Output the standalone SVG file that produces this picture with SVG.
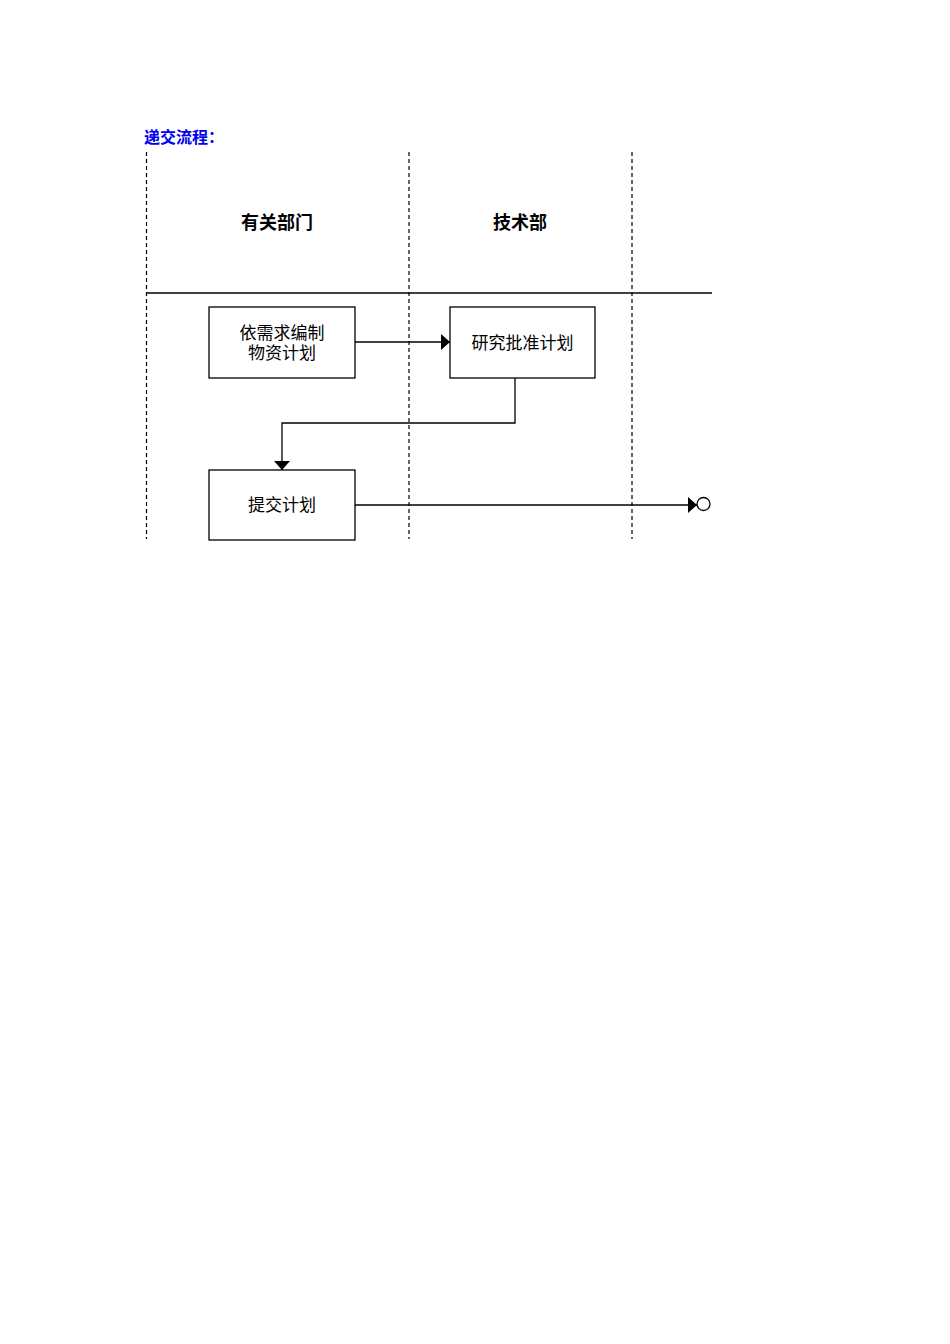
<svg xmlns="http://www.w3.org/2000/svg" width="950" height="1344" viewBox="0 0 950 1344">
<style>
.t{font-family:"Liberation Sans","Noto Sans CJK SC",sans-serif;fill:#000}
.box{fill:#fff;stroke:#000;stroke-width:1.3}
.lane{stroke:#000;stroke-width:1.2;stroke-dasharray:4,3;fill:none}
.ln{stroke:#000;stroke-width:1.3;fill:none}
</style>
<defs>
<marker id="ah" markerWidth="10" markerHeight="16" refX="9" refY="8" orient="auto" markerUnits="userSpaceOnUse">
<path d="M0,0 L9,8 L0,16 Z" fill="#000"/>
</marker>
</defs>
<rect width="950" height="1344" fill="#fff"/>
<text class="t" x="144" y="143" font-size="16" font-weight="bold" style="fill:#0000ee">递交流程：</text>
<g id="lanes">
<line class="lane" x1="146.5" y1="152" x2="146.5" y2="539"/>
<line class="lane" x1="409" y1="152" x2="409" y2="539"/>
<line class="lane" x1="632" y1="152" x2="632" y2="539"/>
<line class="ln" x1="146" y1="293" x2="712" y2="293"/>
<text class="t" x="277" y="229" font-size="18" font-weight="bold" text-anchor="middle">有关部门</text>
<text class="t" x="520" y="229" font-size="18" font-weight="bold" text-anchor="middle">技术部</text>
</g>
<g id="n1">
<rect class="box" x="209" y="307" width="146" height="71"/>
<text class="t" x="282" y="339" font-size="17" text-anchor="middle">依需求编制</text>
<text class="t" x="282" y="359" font-size="17" text-anchor="middle">物资计划</text>
</g>
<g id="n2">
<rect class="box" x="450" y="307" width="145" height="71"/>
<text class="t" x="522.5" y="349" font-size="17" text-anchor="middle">研究批准计划</text>
</g>
<g id="n3">
<rect class="box" x="209" y="470" width="146" height="70"/>
<text class="t" x="282" y="511" font-size="17" text-anchor="middle">提交计划</text>
</g>
<g id="end">
<circle cx="703.5" cy="504" r="6.5" fill="#fff" stroke="#000" stroke-width="1.3"/>
</g>
<g id="connectors">
<path class="ln" d="M355,342 H450" marker-end="url(#ah)"/>
<path class="ln" d="M515,378 V423 H282 V470" marker-end="url(#ah)"/>
<path class="ln" d="M355,505 H697" marker-end="url(#ah)"/>
</g>
</svg>
